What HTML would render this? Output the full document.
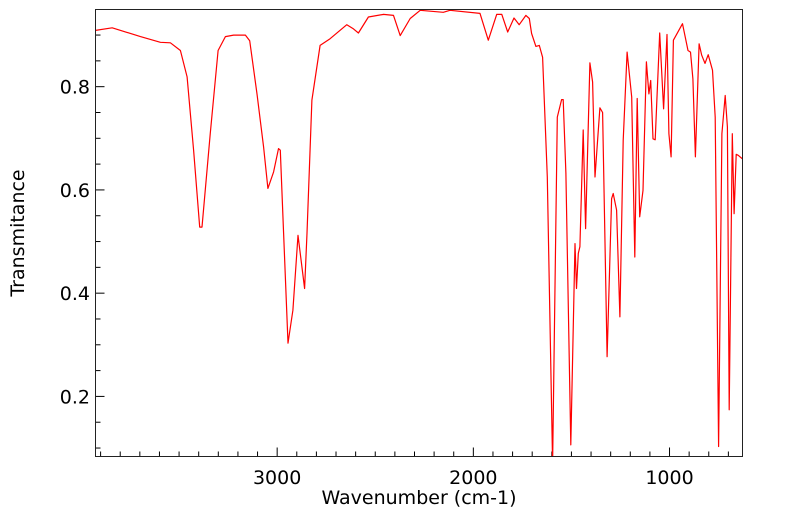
<!DOCTYPE html>
<html><head><meta charset="utf-8"><style>
html,body{margin:0;padding:0;background:#fff;width:799px;height:516px;overflow:hidden}
svg{display:block;font-family:"DejaVu Sans","Liberation Sans",sans-serif}
</style></head><body>
<svg id="chart" width="799" height="516"></svg>
<script>
const wavenumbers=[3926,3841,3697,3595,3544,3493,3459,3426,3395,3383,3341,3301,3264,3222,3162,3140,3103,3069,3047,3018,2993,2984,2967,2945,2920,2894,2860,2848,2823,2781,2730,2645,2611,2586,2535,2458,2407,2373,2322,2271,2153,2119,1966,1924,1881,1855,1825,1793,1766,1732,1715,1703,1681,1664,1647,1623,1596,1572,1550,1542,1528,1503,1482,1474,1465,1457,1440,1428,1406,1392,1380,1355,1341,1318,1295,1287,1270,1253,1236,1216,1193,1177,1165,1152,1135,1118,1105,1096,1084,1073,1050,1030,1013,1003,992,980,934,906,893,881,868,849,836,819,803,781,767,750,733,716,705,696,680,671,660,650,628];
const transmittance=[0.909,0.914,0.897,0.886,0.885,0.870,0.819,0.677,0.528,0.528,0.71,0.870,0.897,0.9,0.9,0.889,0.786,0.683,0.603,0.635,0.680,0.677,0.516,0.303,0.367,0.512,0.409,0.516,0.774,0.880,0.893,0.920,0.912,0.904,0.935,0.940,0.938,0.899,0.932,0.948,0.944,0.948,0.942,0.890,0.94,0.94,0.906,0.933,0.920,0.938,0.932,0.903,0.878,0.880,0.857,0.625,0.07,0.741,0.775,0.775,0.632,0.106,0.496,0.409,0.477,0.49,0.716,0.525,0.846,0.809,0.625,0.759,0.75,0.277,0.583,0.593,0.561,0.354,0.696,0.867,0.78,0.470,0.777,0.548,0.599,0.848,0.786,0.812,0.699,0.697,0.904,0.757,0.901,0.709,0.664,0.89,0.922,0.870,0.867,0.815,0.664,0.883,0.861,0.845,0.862,0.832,0.741,0.103,0.709,0.783,0.722,0.174,0.709,0.554,0.669,0.667,0.660];
const xTickLabels=[3000,2000,1000];
const yTickLabels=[0.2,0.4,0.6,0.8];

const L=95.5,R=742.5,T=9.5,B=456.5;
const xMin=3926,xMax=628,yMin=0.0836,yMax=0.9495;
const X=v=>L+(xMin-v)/(xMin-xMax)*(R-L);
const Y=v=>B-(v-yMin)/(yMax-yMin)*(B-T);
const NS='http://www.w3.org/2000/svg';
const svg=document.getElementById('chart');
function mk(t,a){const e=document.createElementNS(NS,t);for(const k in a)e.setAttribute(k,a[k]);return e;}

const clip=mk('clipPath',{id:'c'});clip.appendChild(mk('rect',{x:L,y:T,width:R-L,height:B-T}));svg.appendChild(clip);

for(let v=3900;v>=700;v-=100){
  const major=v%1000===0;
  const t=mk('line',{x1:X(v),x2:X(v),y1:B,y2:B-(major?9:5),stroke:'#000','stroke-width':1});
  
  
  svg.appendChild(t);
}
xTickLabels.forEach(v=>{
  const t=mk('text',{x:X(v),y:484,'text-anchor':'middle','font-size':19,fill:'#000'});
  t.textContent=v;
  
  
  svg.appendChild(t);
});
for(let i=2;i<=18;i++){
  const v=i*0.05;if(Y(v)<T||Y(v)>B)continue;
  const major=i%4===0;
  const t=mk('line',{x1:L,x2:L+(major?9:5),y1:Y(v),y2:Y(v),stroke:'#000','stroke-width':1});
  
  
  svg.appendChild(t);
}
yTickLabels.forEach(v=>{
  const t=mk('text',{x:90,y:Y(v)+7,'text-anchor':'end','font-size':19,fill:'#000'});
  t.textContent=v.toFixed(1);
  
  
  svg.appendChild(t);
});
const pts=wavenumbers.map((w,i)=>X(w).toFixed(1)+','+Y(transmittance[i]).toFixed(1)).join(' ');
const line=mk('polyline',{points:pts,fill:'none',stroke:'#ff0000','stroke-width':1.2,'stroke-linejoin':'round','clip-path':'url(#c)'});


svg.appendChild(line);
const fr=mk('rect',{x:L,y:T,width:R-L,height:B-T,fill:'none',stroke:'#222','stroke-width':1});


svg.appendChild(fr);
const xt=mk('text',{x:419,y:504,'text-anchor':'middle','font-size':19,fill:'#000'});
xt.textContent='Wavenumber (cm-1)';


svg.appendChild(xt);
const yt=mk('text',{x:0,y:0,'text-anchor':'middle','font-size':19,fill:'#000',transform:'translate(24,233) rotate(-90)'});
yt.textContent='Transmitance';


svg.appendChild(yt);
</script>
</body></html>
